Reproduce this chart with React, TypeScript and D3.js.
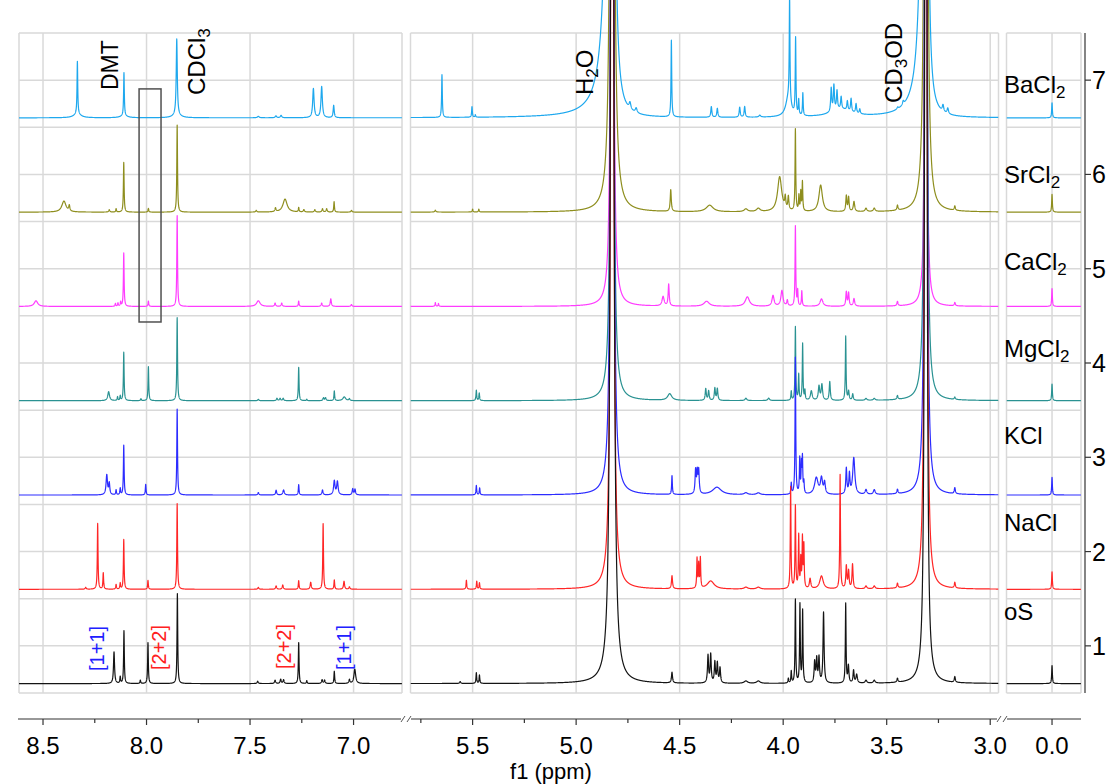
import React, { useMemo } from 'react';
import * as d3 from 'd3';

// Peak tables: [ppm, height (y units), half-width (ppm), optional half-width on the low-ppm side]
type Peak = [number, number, number, number?];

const TRACE_NAMES = ['oS', 'NaCl', 'KCl', 'MgCl2', 'CaCl2', 'SrCl2', 'BaCl2'];
const TRACE_COLORS = ['#141414', '#ff2626', '#2c2cff', '#2a9292', '#ff3cff', '#8e8e1e', '#1ea8ee'];
const TRACE_OFFSETS = [0.6, 1.6, 2.6, 3.6, 4.6, 5.6, 6.6];

const H2O_PPM = 4.826;
const CD3OD_PPM = 3.311;
const SOLVENT_HEIGHT = 40;
// [H2O wL, H2O wR, CD3OD wL, CD3OD wR] per trace
const SOLVENT_WIDTHS: number[][] = [
  [0.0039, 0.0039, 0.0027, 0.0027],
  [0.0032, 0.0032, 0.0027, 0.0027],
  [0.0032, 0.0032, 0.0027, 0.0027],
  [0.003, 0.003, 0.0027, 0.0027],
  [0.0027, 0.0027, 0.0019, 0.0019],
  [0.0039, 0.0039, 0.0032, 0.0032],
  [0.0085, 0.0043, 0.0065, 0.0035],
];

const oS: Peak[] = [
  [8.157, 0.336, 0.003], [8.127, 0.07, 0.002], [8.109, 0.559, 0.002], [8.03, 0.035, 0.002], [7.993, 0.435, 0.002],
  [7.851, 0.955, 0.002], [7.463, 0.025, 0.003], [7.379, 0.035, 0.003], [7.352, 0.045, 0.003], [7.338, 0.04, 0.003],
  [7.265, 0.435, 0.002], [7.226, 0.03, 0.002], [7.152, 0.04, 0.003], [7.14, 0.035, 0.003], [7.093, 0.13, 0.002],
  [7.02, 0.04, 0.003], [6.994, 0.152, 0.005],
  [5.56, 0.02, 0.003], [5.482, 0.113, 0.002], [5.467, 0.088, 0.002], [4.537, 0.113, 0.003], [4.363, 0.29, 0.003],
  [4.35, 0.3, 0.003], [4.33, 0.22, 0.003], [4.318, 0.21, 0.003], [4.305, 0.16, 0.003], [4.18, 0.025, 0.01],
  [4.12, 0.025, 0.01], [3.975, 0.05, 0.002], [3.961, 0.124, 0.002], [3.941, 0.884, 0.002], [3.919, 0.831, 0.002],
  [3.906, 0.767, 0.002], [3.848, 0.22, 0.003], [3.838, 0.25, 0.003], [3.827, 0.265, 0.003], [3.805, 0.75, 0.003],
  [3.698, 0.842, 0.002], [3.685, 0.18, 0.003], [3.66, 0.134, 0.003], [3.645, 0.09, 0.004], [3.6, 0.03, 0.005],
  [3.56, 0.03, 0.005], [3.448, 0.042, 0.003], [3.171, 0.06, 0.003],
  [0.0, 0.19, 0.002],
];

const NaCl: Peak[] = [
  [8.294, 0.02, 0.003], [8.236, 0.697, 0.002], [8.209, 0.173, 0.002], [8.147, 0.05, 0.002], [8.127, 0.064, 0.002],
  [8.11, 0.527, 0.002], [7.993, 0.095, 0.002], [7.852, 0.909, 0.002], [7.46, 0.02, 0.003], [7.374, 0.035, 0.003],
  [7.342, 0.045, 0.003], [7.265, 0.092, 0.002], [7.207, 0.074, 0.003], [7.147, 0.697, 0.002], [7.093, 0.099, 0.002],
  [7.046, 0.085, 0.003], [7.02, 0.025, 0.003],
  [5.53, 0.095, 0.002], [5.48, 0.085, 0.002], [5.467, 0.067, 0.002], [4.537, 0.138, 0.003], [4.416, 0.315, 0.002],
  [4.408, 0.25, 0.002], [4.4, 0.315, 0.002], [4.35, 0.085, 0.02], [4.18, 0.02, 0.01], [4.12, 0.02, 0.01],
  [3.964, 1.08, 0.002], [3.941, 0.874, 0.002], [3.925, 0.555, 0.002], [3.915, 0.3, 0.002], [3.907, 0.52, 0.002],
  [3.9, 0.45, 0.002], [3.87, 0.106, 0.004], [3.815, 0.138, 0.01], [3.725, 1.21, 0.002], [3.695, 0.237, 0.003],
  [3.684, 0.184, 0.003], [3.665, 0.26, 0.003], [3.6, 0.03, 0.005], [3.56, 0.03, 0.005], [3.448, 0.05, 0.003],
  [3.171, 0.06, 0.003],
  [0.0, 0.184, 0.002],
];

const KCl: Peak[] = [
  [8.192, 0.212, 0.004], [8.18, 0.12, 0.003], [8.147, 0.053, 0.002], [8.127, 0.07, 0.002], [8.11, 0.527, 0.002],
  [8.004, 0.113, 0.002], [7.852, 0.912, 0.002], [7.46, 0.025, 0.003], [7.374, 0.05, 0.003], [7.338, 0.053, 0.004],
  [7.265, 0.11, 0.002], [7.15, 0.053, 0.003], [7.093, 0.148, 0.004], [7.078, 0.14, 0.004], [7.004, 0.064, 0.003],
  [6.993, 0.06, 0.003],
  [5.482, 0.1, 0.002], [5.466, 0.074, 0.002], [4.537, 0.2, 0.002], [4.423, 0.248, 0.003], [4.415, 0.22, 0.003],
  [4.408, 0.24, 0.003], [4.32, 0.08, 0.025], [4.18, 0.02, 0.01], [4.12, 0.02, 0.01], [3.961, 0.117, 0.002],
  [3.941, 1.45, 0.002], [3.92, 0.37, 0.002], [3.912, 0.3, 0.002], [3.907, 0.37, 0.002], [3.9, 0.12, 0.002],
  [3.84, 0.177, 0.01], [3.815, 0.166, 0.006], [3.8, 0.12, 0.004], [3.695, 0.272, 0.003], [3.68, 0.21, 0.003],
  [3.659, 0.389, 0.006], [3.6, 0.05, 0.005], [3.56, 0.05, 0.005], [3.448, 0.046, 0.003], [3.171, 0.064, 0.003],
  [0.0, 0.187, 0.002],
];

const MgCl2: Peak[] = [
  [8.183, 0.095, 0.005], [8.14, 0.04, 0.002], [8.127, 0.05, 0.002], [8.11, 0.513, 0.002], [8.027, 0.02, 0.002],
  [7.991, 0.36, 0.002], [7.852, 0.88, 0.002], [7.46, 0.015, 0.003], [7.37, 0.025, 0.003], [7.355, 0.025, 0.003],
  [7.34, 0.025, 0.003], [7.265, 0.354, 0.002], [7.226, 0.015, 0.002], [7.145, 0.03, 0.003], [7.135, 0.03, 0.003],
  [7.093, 0.103, 0.002], [7.045, 0.04, 0.008], [7.02, 0.02, 0.003],
  [5.482, 0.11, 0.002], [5.468, 0.08, 0.002], [4.548, 0.07, 0.012], [4.374, 0.124, 0.003], [4.36, 0.1, 0.003],
  [4.33, 0.13, 0.003], [4.318, 0.124, 0.003], [4.18, 0.025, 0.005], [4.07, 0.025, 0.005], [3.961, 0.095, 0.002],
  [3.941, 0.778, 0.002], [3.925, 0.27, 0.002], [3.906, 0.6, 0.002], [3.895, 0.1, 0.002], [3.864, 0.1, 0.005],
  [3.827, 0.149, 0.004], [3.813, 0.166, 0.004], [3.775, 0.2, 0.003], [3.698, 0.679, 0.002], [3.684, 0.095, 0.003],
  [3.664, 0.067, 0.003], [3.6, 0.02, 0.005], [3.56, 0.02, 0.005], [3.448, 0.04, 0.003], [3.171, 0.025, 0.003],
  [0.0, 0.177, 0.002],
];

const CaCl2: Peak[] = [
  [8.534, 0.06, 0.01], [8.15, 0.03, 0.002], [8.138, 0.035, 0.002], [8.125, 0.046, 0.002], [8.11, 0.566, 0.002],
  [7.991, 0.057, 0.002], [7.852, 0.962, 0.002], [7.46, 0.06, 0.01], [7.379, 0.035, 0.003], [7.347, 0.035, 0.003],
  [7.265, 0.057, 0.002], [7.154, 0.035, 0.003], [7.11, 0.081, 0.003], [7.01, 0.02, 0.003],
  [5.68, 0.04, 0.002], [5.665, 0.03, 0.002], [4.58, 0.1, 0.006], [4.553, 0.23, 0.003], [4.37, 0.053, 0.015],
  [4.173, 0.1, 0.012], [4.049, 0.113, 0.006], [4.006, 0.166, 0.006], [3.98, 0.06, 0.003], [3.941, 0.849, 0.002],
  [3.93, 0.16, 0.002], [3.91, 0.16, 0.002], [3.815, 0.078, 0.008], [3.695, 0.15, 0.003], [3.684, 0.14, 0.003],
  [3.658, 0.08, 0.004], [3.448, 0.046, 0.003], [3.171, 0.035, 0.003],
  [0.0, 0.19, 0.002],
];

const SrCl2: Peak[] = [
  [8.399, 0.117, 0.012], [8.373, 0.06, 0.003], [8.18, 0.025, 0.003], [8.147, 0.035, 0.002], [8.11, 0.527, 0.002],
  [7.991, 0.039, 0.002], [7.852, 0.923, 0.002], [7.47, 0.018, 0.003], [7.377, 0.04, 0.003], [7.331, 0.138, 0.012],
  [7.265, 0.046, 0.002], [7.24, 0.025, 0.003], [7.187, 0.025, 0.003], [7.15, 0.035, 0.003], [7.13, 0.035, 0.003],
  [7.094, 0.11, 0.002], [7.01, 0.018, 0.003],
  [5.68, 0.02, 0.003], [5.5, 0.03, 0.002], [5.47, 0.03, 0.002], [4.543, 0.23, 0.003], [4.355, 0.07, 0.02],
  [4.18, 0.03, 0.01], [4.12, 0.035, 0.01], [4.017, 0.371, 0.012], [3.99, 0.12, 0.003], [3.975, 0.14, 0.003],
  [3.941, 0.867, 0.002], [3.924, 0.16, 0.002], [3.915, 0.2, 0.002], [3.907, 0.31, 0.002], [3.819, 0.283, 0.01],
  [3.695, 0.166, 0.003], [3.684, 0.15, 0.003], [3.658, 0.106, 0.004], [3.6, 0.035, 0.005], [3.56, 0.035, 0.005],
  [3.448, 0.053, 0.003], [3.171, 0.046, 0.003],
  [0.0, 0.188, 0.002],
];

const BaCl2: Peak[] = [
  [8.334, 0.559, 0.002], [8.334, 0.04, 0.02], [8.109, 0.46, 0.002], [8.109, 0.02, 0.02], [7.854, 0.806, 0.003],
  [7.854, 0.03, 0.02], [7.46, 0.015, 0.005], [7.375, 0.02, 0.004], [7.35, 0.025, 0.004], [7.194, 0.308, 0.004],
  [7.154, 0.329, 0.004], [7.096, 0.131, 0.003],
  [5.648, 0.453, 0.002], [5.503, 0.113, 0.002], [5.487, 0.025, 0.002], [4.74, 0.07, 0.005], [4.71, 0.05, 0.005],
  [4.54, 0.813, 0.002], [4.347, 0.113, 0.003], [4.318, 0.095, 0.003], [4.21, 0.106, 0.003], [4.186, 0.113, 0.003],
  [4.113, 0.02, 0.005], [3.975, 0.2, 0.015], [3.969, 1.11, 0.002], [3.94, 0.81, 0.002], [3.925, 0.16, 0.002],
  [3.905, 0.24, 0.002], [3.72, 0.08, 0.06], [3.768, 0.25, 0.003], [3.755, 0.27, 0.003], [3.74, 0.2, 0.003],
  [3.72, 0.13, 0.003], [3.69, 0.1, 0.003], [3.672, 0.14, 0.003], [3.648, 0.1, 0.003], [3.63, 0.05, 0.003],
  [3.447, 0.02, 0.004], [3.42, 0.04, 0.004], [3.228, 0.07, 0.004], [3.205, 0.06, 0.004],
  [0.0, 0.16, 0.002],
];

const TRACE_PEAKS: Peak[][] = [oS, NaCl, KCl, MgCl2, CaCl2, SrCl2, BaCl2];

const PANEL_DOMAINS = [[8.616, 6.766], [5.8, 2.96], [0.22, -0.14]];
const PANEL_RANGES = [[19, 402], [410.5, 998.5], [1006.5, 1081]];
const MAJOR_TICKS = [[8.5, 8.0, 7.5, 7.0], [5.5, 5.0, 4.5, 4.0, 3.5, 3.0], [0.0]];
const MINOR_TICKS = [[8.25, 7.75, 7.25], [5.75, 5.25, 4.75, 4.25, 3.75, 3.25], []];
const Y_TICKS = [1, 2, 3, 4, 5, 6, 7];
const Y_GRID = [0.5, 1, 1.5, 2, 2.5, 3, 3.5, 4, 4.5, 5, 5.5, 6, 6.5, 7, 7.5];

const FONT = "'Liberation Sans', Arial, Helvetica, sans-serif";

function lor(x: number, p: Peak): number {
  const [c, h, w, wr] = p;
  const ww = x < c && wr !== undefined ? wr : w;
  const d = (x - c) / ww;
  return h / (1 + d * d);
}

export default function App() {
  const W = 1110;
  const H = 784;
  const y = d3.scaleLinear().domain([0.5, 7.5]).range([693, 33]);
  const xs = PANEL_DOMAINS.map((dm, i) => d3.scaleLinear().domain(dm).range(PANEL_RANGES[i]));
  const axisY = 719;

  const paths = useMemo(() => {
    const out: { panel: number; trace: number; d: string }[] = [];
    PANEL_DOMAINS.forEach((dm, pi) => {
      const x = xs[pi];
      for (let t = TRACE_PEAKS.length - 1; t >= 0; t--) {
        const sw = SOLVENT_WIDTHS[t];
        const peaks: Peak[] = [
          ...TRACE_PEAKS[t],
          [H2O_PPM, SOLVENT_HEIGHT, sw[0], sw[1]],
          [CD3OD_PPM, SOLVENT_HEIGHT, sw[2], sw[3]],
        ];
        const grid: number[] = [];
        for (let v = dm[0]; v >= dm[1]; v -= 0.0005) grid.push(v);
        peaks.forEach((p) => {
          if (p[0] <= dm[0] && p[0] >= dm[1]) grid.push(p[0]);
        });
        grid.sort((a, b) => b - a);
        const pts: [number, number][] = grid.map((v) => {
          let s = 0;
          for (const p of peaks) s += lor(v, p);
          return [v, Math.min(s, 9)];
        });
        const line = d3
          .line<[number, number]>()
          .x((d) => x(d[0]))
          .y((d) => y(TRACE_OFFSETS[t] + d[1]));
        out.push({ panel: pi, trace: t, d: line(pts) || '' });
      }
    });
    return out;
  }, []);

  const fmt = d3.format('.1f');
  const gridColor = '#d9d9d9';

  const rightLabels = [
    { main: 'oS', sub: '', yb: 620 },
    { main: 'NaCl', sub: '', yb: 531 },
    { main: 'KCl', sub: '', yb: 444 },
    { main: 'MgCl', sub: '2', yb: 357 },
    { main: 'CaCl', sub: '2', yb: 270 },
    { main: 'SrCl', sub: '2', yb: 183 },
    { main: 'BaCl', sub: '2', yb: 93 },
  ];

  const x1 = xs[0];
  const x2 = xs[1];

  return (
    <svg width={W} height={H} style={{ position: 'absolute', left: 0, top: 0, background: '#fff' }} fontFamily={FONT}>
      <defs>
        {PANEL_RANGES.map((r, i) => (
          <clipPath id={`clip${i}`} key={i}>
            <rect x={r[0]} y={0} width={r[1] - r[0]} height={700} />
          </clipPath>
        ))}
      </defs>
      <rect x={0} y={0} width={W} height={H} fill="#fff" />

      {/* grid */}
      {PANEL_RANGES.map((r, i) => (
        <g key={`g${i}`} stroke={gridColor} strokeWidth={1.5}>
          {Y_GRID.map((v) => (
            <line key={v} x1={r[0]} x2={r[1]} y1={y(v)} y2={y(v)} />
          ))}
          {MAJOR_TICKS[i].map((t) => (
            <line key={t} x1={xs[i](t)} x2={xs[i](t)} y1={y(7.5)} y2={y(0.5)} />
          ))}
          <line x1={r[0]} x2={r[0]} y1={y(7.5)} y2={y(0.5)} />
          <line x1={r[1]} x2={r[1]} y1={y(7.5)} y2={y(0.5)} />
        </g>
      ))}

      {/* traces */}
      {paths.map((p, i) => (
        <path
          key={i}
          d={p.d}
          fill="none"
          stroke={TRACE_COLORS[p.trace]}
          strokeWidth={1.2}
          strokeLinejoin="round"
          clipPath={`url(#clip${p.panel})`}
        />
      ))}

      {/* boxed region */}
      <rect
        x={x1(8.036)}
        y={y(6.907)}
        width={x1(7.93) - x1(8.036)}
        height={y(4.435) - y(6.907)}
        fill="none"
        stroke="#505050"
        strokeWidth={1.5}
      />

      {/* rotated annotations */}
      <text transform={`translate(${x1(8.138)},90) rotate(-90)`} fontSize={23} fill="#000">DMT</text>
      <text transform={`translate(${x1(7.718)},95) rotate(-90)`} fontSize={24} fill="#000">
        CDCl<tspan dy={5} fontSize={17}>3</tspan>
      </text>
      <text transform={`translate(${x2(4.92)},95) rotate(-90)`} fontSize={24} fill="#000">
        H<tspan dy={5} fontSize={17}>2</tspan><tspan dy={-5}>O</tspan>
      </text>
      <text transform={`translate(${x2(3.428)},103) rotate(-90)`} fontSize={24} fill="#000">
        CD<tspan dy={5} fontSize={17}>3</tspan><tspan dy={-5}>OD</tspan>
      </text>
      <text transform={`translate(${x1(8.205)},671) rotate(-90)`} fontSize={20} fill="#2020ff">[1+1]</text>
      <text transform={`translate(${x1(7.906)},670) rotate(-90)`} fontSize={20} fill="#ff2020">[2+2]</text>
      <text transform={`translate(${x1(7.302)},669) rotate(-90)`} fontSize={20} fill="#ff2020">[2+2]</text>
      <text transform={`translate(${x1(7.011)},670) rotate(-90)`} fontSize={20} fill="#2020ff">[1+1]</text>

      {/* right labels */}
      {rightLabels.map((l) => (
        <text key={l.main} x={1004} y={l.yb} fontSize={24} fill="#000">
          {l.main}
          {l.sub ? <tspan dy={5} fontSize={17}>{l.sub}</tspan> : null}
        </text>
      ))}

      {/* right y axis */}
      <g stroke="#333" strokeWidth={1.2}>
        <line x1={1085} x2={1085} y1={y(7.5)} y2={y(0.5)} />
        {Y_TICKS.map((t) => (
          <line key={t} x1={1085} x2={1091} y1={y(t)} y2={y(t)} />
        ))}
      </g>
      {Y_TICKS.map((t) => (
        <text key={t} x={1092} y={y(t) + 9} fontSize={25} fill="#000">{t}</text>
      ))}

      {/* bottom x axis */}
      <g stroke="#333" strokeWidth={1.2}>
        {PANEL_RANGES.map((r, i) => (
          <line key={i} x1={r[0] - 1} x2={r[1]} y1={axisY} y2={axisY} />
        ))}
        {MAJOR_TICKS.map((ts, i) =>
          ts.map((t) => <line key={`M${i}${t}`} x1={xs[i](t)} x2={xs[i](t)} y1={axisY} y2={axisY + 6} />)
        )}
        {MINOR_TICKS.map((ts, i) =>
          ts.map((t) => <line key={`m${i}${t}`} x1={xs[i](t)} x2={xs[i](t)} y1={axisY} y2={axisY + 4} />)
        )}
      </g>
      {[406, 1002].map((cx) => (
        <g key={cx} stroke="#fff" strokeWidth={4}>
          <line x1={cx - 5} x2={cx + 5} y1={axisY} y2={axisY} />
        </g>
      ))}
      {[406, 1002].map((cx) => (
        <g key={`b${cx}`} stroke="#555" strokeWidth={1}>
          <line x1={cx - 5} y1={axisY + 3} x2={cx - 1} y2={axisY - 3} />
          <line x1={cx + 1} y1={axisY + 3} x2={cx + 5} y2={axisY - 3} />
        </g>
      ))}
      {MAJOR_TICKS.map((ts, i) =>
        ts.map((t) => (
          <text key={`l${i}${t}`} x={xs[i](t)} y={753.5} fontSize={24} textAnchor="middle" fill="#000">
            {fmt(t)}
          </text>
        ))
      )}
      <text x={551} y={779} fontSize={22} textAnchor="middle" fill="#000">f1 (ppm)</text>
    </svg>
  );
}
